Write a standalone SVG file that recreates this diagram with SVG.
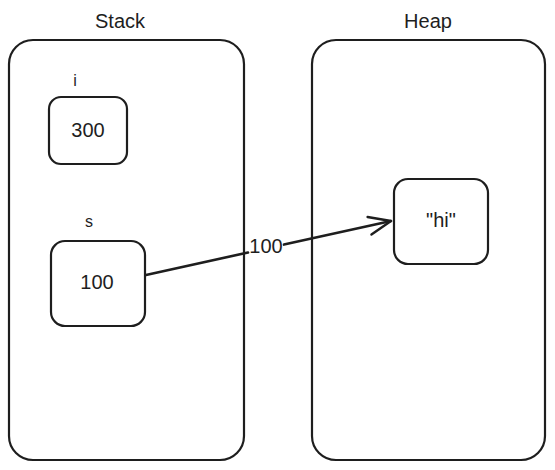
<svg xmlns="http://www.w3.org/2000/svg" width="555" height="470" viewBox="0 0 555 470">
<style>
.box{fill:none;stroke:#1e1e1e;stroke-width:2.2;stroke-linejoin:round}
.t{font-family:"Liberation Sans",Arial,sans-serif;font-size:20px;fill:#1e1e1e;text-anchor:middle}
.edge{fill:none;stroke:#1e1e1e;stroke-width:2.6;stroke-linecap:round}
</style>
<defs>
<marker id="arr" markerUnits="userSpaceOnUse" markerWidth="30" markerHeight="30" refX="24" refY="12" orient="auto" viewBox="0 0 30 24">
<path d="M2 3 L24 12 L2 21" fill="none" stroke="#1e1e1e" stroke-width="2.4" stroke-linecap="round" stroke-linejoin="round"/>
</marker>
</defs>
<rect width="555" height="470" fill="#ffffff"/>
<g id="stack">
<rect class="box" x="9" y="40" width="235" height="420" rx="24"/>
<text class="t" x="120" y="28">Stack</text>
</g>
<g id="heap">
<rect class="box" x="312" y="40" width="233" height="420" rx="24"/>
<text class="t" x="428" y="28">Heap</text>
</g>
<g id="var-i">
<text class="t" x="75" y="86" style="font-size:16px">i</text>
<rect class="box" x="49" y="97" width="78" height="67" rx="12"/>
<text class="t" x="88" y="137">300</text>
</g>
<g id="var-s">
<text class="t" x="89" y="227" style="font-size:16px">s</text>
<rect class="box" x="51" y="241" width="94" height="85" rx="14"/>
<text class="t" x="97" y="289">100</text>
</g>
<g id="hi">
<rect class="box" x="394" y="179" width="94" height="85" rx="14"/>
<text class="t" x="441" y="227">"hi"</text>
</g>
<g id="connectors">
<path class="edge" d="M146 275 L248 252.5"/>
<path class="edge" d="M284 244.6 L391 221" marker-end="url(#arr)"/>
<text class="t" x="266" y="253">100</text>
</g>
</svg>
